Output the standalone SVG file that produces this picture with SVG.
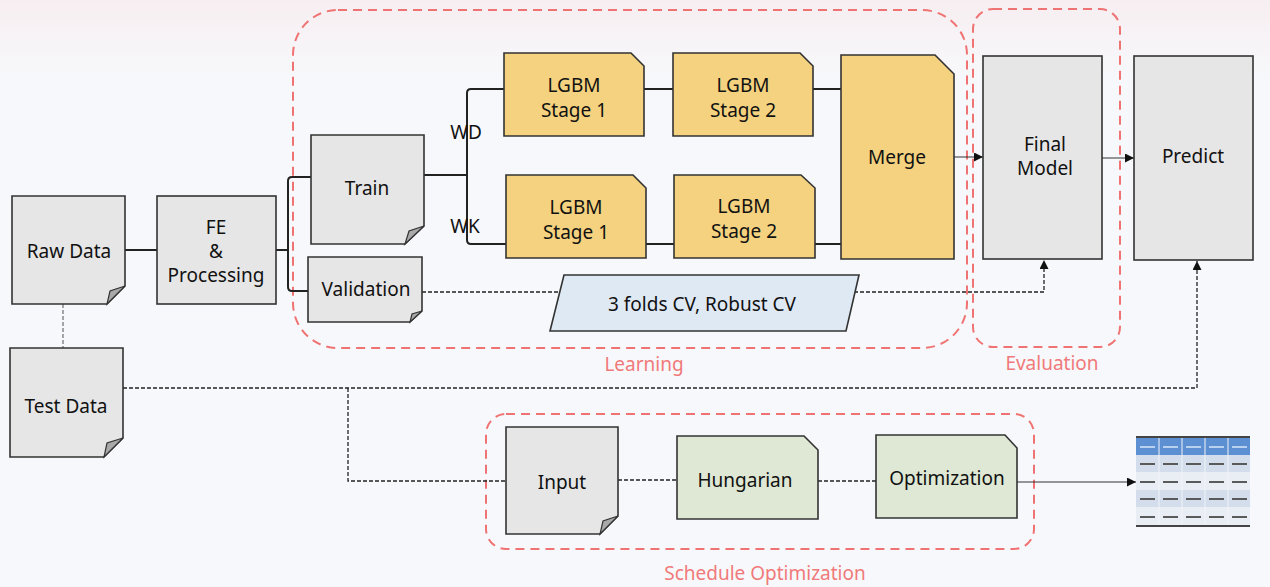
<svg xmlns="http://www.w3.org/2000/svg" width="1270" height="587" viewBox="0 0 1270 587">
<defs>
<linearGradient id="bg" x1="0" y1="0" x2="0" y2="1">
<stop offset="0" stop-color="#f7eef1"/>
<stop offset="0.13" stop-color="#f7f8fb"/>
<stop offset="1" stop-color="#f7f8fb"/>
</linearGradient>
<marker id="arr" viewBox="0 0 10 10" refX="10" refY="5" markerWidth="9" markerHeight="9" markerUnits="userSpaceOnUse" orient="auto">
<path d="M0,0 L10,5 L0,10 Z" fill="#111"/>
</marker>
</defs>
<style>
text{font-family:"Noto Sans","Open Sans","DejaVu Sans",sans-serif;font-size:19px;fill:#111;text-anchor:middle;dominant-baseline:central}
.lbl{fill:#f07a7a}
.gray{fill:#e6e6e6;stroke:#333;stroke-width:1.6}
.fold{fill:#a9a9a9;stroke:#333;stroke-width:1.2}
.gold{fill:#f4d27f;stroke:#333;stroke-width:1.6}
.green{fill:#dee8d4;stroke:#333;stroke-width:1.6}
.blue{fill:#dfe9f4;stroke:#333;stroke-width:1.6}
.grp{fill:none;stroke:#f07373;stroke-width:2;stroke-dasharray:9 6}
.solid{fill:none;stroke:#222;stroke-width:2}
.thin{fill:none;stroke:#333;stroke-width:1}
.dash{fill:none;stroke:#222;stroke-width:1.3;stroke-dasharray:4 2}
.gdash{fill:none;stroke:#777;stroke-width:1.3;stroke-dasharray:4 2}
</style>
<rect x="0" y="0" width="1270" height="587" fill="url(#bg)"/>

<g id="groups">
<rect class="grp" x="293" y="10" width="674" height="338" rx="45"/>
<rect class="grp" x="973" y="9" width="147" height="338" rx="20"/>
<rect class="grp" x="486" y="414" width="548" height="135" rx="20"/>
<text class="lbl" x="644" y="364">Learning</text>
<text class="lbl" x="1052" y="363">Evaluation</text>
<text class="lbl" x="765" y="573">Schedule Optimization</text>
</g>

<g id="connectors">
<path class="solid" d="M125,250 H157"/>
<path class="solid" d="M276,250 H288"/>
<path class="solid" d="M311,177 H292 Q288,177 288,181 V287 Q288,291 292,291 H308"/>
<path class="solid" d="M424,175 H467"/>
<path class="solid" d="M504,89 H471 Q467,89 467,93 V240 Q467,244 471,244 H506"/>
<path class="solid" d="M644,89 H673"/>
<path class="solid" d="M813,89 H841"/>
<path class="solid" d="M646,244 H674"/>
<path class="solid" d="M815,244 H841"/>
<path class="thin" d="M954,157 H983" marker-end="url(#arr)"/>
<path class="thin" d="M1102,158 H1134" marker-end="url(#arr)"/>
<path class="dash" d="M422,292 H1044 V260" marker-end="url(#arr)"/>
<path class="gdash" d="M63,304 V348"/>
<path class="dash" d="M123,388 H1197 V261" marker-end="url(#arr)"/>
<path class="dash" d="M348,388 V481 H506"/>
<path class="dash" d="M618,480 H677"/>
<path class="dash" d="M818,481 H876"/>
<path class="thin" d="M1017,482 H1136" marker-end="url(#arr)"/>
</g>

<g id="raw-data">
<path class="gray" d="M12,196 H125 V286 L107,304 H12 Z"/>
<path class="fold" d="M125,286 L107,304 L110,291 Z"/>
<text x="69" y="251">Raw Data</text>
</g>

<g id="test-data">
<path class="gray" d="M10,348 H123 V438 L104,457 H10 Z"/>
<path class="fold" d="M123,438 L104,457 L107,443 Z"/>
<text x="66" y="406">Test Data</text>
</g>

<g id="fe">
<rect class="gray" x="157" y="196" width="119" height="108"/>
<text x="216" y="227">FE</text>
<text x="216" y="251">&amp;</text>
<text x="216" y="275">Processing</text>
</g>

<g id="train">
<path class="gray" d="M311,135 H424 V226 L405,244 H311 Z"/>
<path class="fold" d="M424,226 L405,244 L409,231 Z"/>
<text x="367" y="188">Train</text>
</g>

<g id="validation">
<path class="gray" d="M308,257 H422 V311 L410,322 H308 Z"/>
<path class="fold" d="M422,311 L410,322 L412,314 Z"/>
<text x="366" y="289">Validation</text>
</g>

<text x="466" y="132">WD</text>
<text x="465" y="226">WK</text>

<g id="wd-stage1">
<path class="gold" d="M504,53 H631 L644,66 V136 H504 Z"/>
<text x="574" y="85">LGBM</text>
<text x="574" y="110">Stage 1</text>
</g>
<g id="wd-stage2">
<path class="gold" d="M673,53 H800 L813,66 V136 H673 Z"/>
<text x="743" y="85">LGBM</text>
<text x="743" y="110">Stage 2</text>
</g>
<g id="wk-stage1">
<path class="gold" d="M506,175 H633 L646,188 V258 H506 Z"/>
<text x="576" y="207">LGBM</text>
<text x="576" y="232">Stage 1</text>
</g>
<g id="wk-stage2">
<path class="gold" d="M674,175 H801 L815,188 V258 H674 Z"/>
<text x="744" y="206">LGBM</text>
<text x="744" y="231">Stage 2</text>
</g>
<g id="merge">
<path class="gold" d="M841,55 H935 L954,74 V259 H841 Z"/>
<text x="897" y="157">Merge</text>
</g>

<g id="cv">
<path class="blue" d="M564,275 H859 L846,331 H550 Z"/>
<text x="702" y="304">3 folds CV, Robust CV</text>
</g>

<g id="final-model">
<rect class="gray" x="983" y="56" width="119" height="203"/>
<text x="1045" y="144">Final</text>
<text x="1045" y="168">Model</text>
</g>

<g id="predict">
<rect class="gray" x="1134" y="56" width="119" height="204"/>
<text x="1193" y="156">Predict</text>
</g>

<g id="input">
<path class="gray" d="M506,427 H618 V516 L600,534 H506 Z"/>
<path class="fold" d="M618,516 L600,534 L603,521 Z"/>
<text x="562" y="482">Input</text>
</g>

<g id="hungarian">
<path class="green" d="M677,436 H804 L818,450 V519 H677 Z"/>
<text x="745" y="480">Hungarian</text>
</g>

<g id="optimization">
<path class="green" d="M876,435 H1005 L1017,448 V518 H876 Z"/>
<text x="947" y="478">Optimization</text>
</g>

<g id="table">
<rect x="1136" y="437" width="114" height="18" fill="#5d90d2"/>
<rect x="1136" y="455" width="114" height="17" fill="#d3ddec"/>
<rect x="1136" y="472" width="114" height="18" fill="#e9edf4"/>
<rect x="1136" y="490" width="114" height="17" fill="#d3ddec"/>
<rect x="1136" y="507" width="114" height="18" fill="#e9edf4"/>
<g stroke="#f2f4f8" stroke-width="1">
<path d="M1159,437 V525 M1182,437 V525 M1205,437 V525 M1228,437 V525"/>
</g>
<g stroke="#b9d0ee" stroke-width="2" stroke-dasharray="15 8" stroke-dashoffset="-4">
<path d="M1136,447 H1250"/>
</g>
<g stroke="#5a5a5a" stroke-width="2.2" stroke-dasharray="15 8" stroke-dashoffset="-4">
<path d="M1136,464 H1250 M1136,482 H1250 M1136,499 H1250 M1136,517 H1250"/>
</g>
<path d="M1136,437 H1250 M1136,526 H1250" stroke="#444" stroke-width="2"/>
</g>
</svg>
